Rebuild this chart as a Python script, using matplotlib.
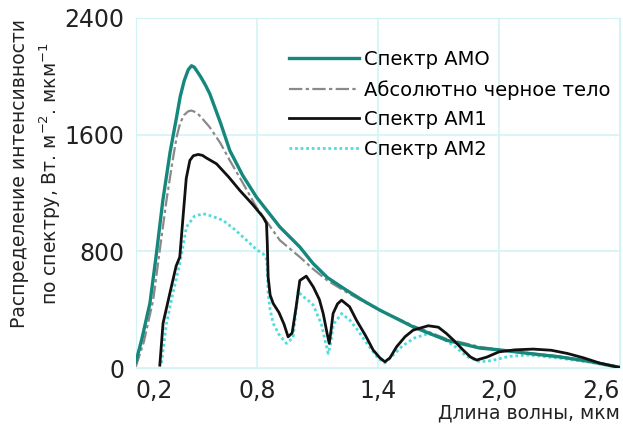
import matplotlib.pyplot as plt

# wavelength (um) / intensity (W m-2 um-1)
am0_x = [0.2, 0.23, 0.27, 0.30, 0.334, 0.37, 0.402, 0.42, 0.44, 0.46, 0.476, 0.49, 0.52, 0.545,
         0.567, 0.62, 0.666, 0.73, 0.798, 0.914, 1.013, 1.078, 1.15, 1.245, 1.33, 1.41,
         1.574, 1.74, 1.906, 2.0, 2.15, 2.3, 2.45, 2.6]
am0_y = [40, 200, 445, 760, 1149, 1480, 1719, 1860, 1970, 2045, 2072, 2062, 2000, 1940,
         1879, 1680, 1491, 1320, 1172, 967, 830, 718, 620, 533, 460, 397, 283, 191, 137,
         125, 100, 77, 45, 5]

bb_x = [0.2, 0.24, 0.286, 0.32, 0.352, 0.38, 0.402, 0.42, 0.44, 0.46, 0.476, 0.50, 0.52,
        0.567, 0.62, 0.666, 0.73, 0.798, 0.914, 1.013, 1.078, 1.15, 1.245, 1.33, 1.41,
        1.574, 1.74, 1.906, 2.0, 2.15, 2.3, 2.45, 2.6]
bb_y = [10, 180, 465, 820, 1149, 1400, 1582, 1680, 1735, 1760, 1765, 1752, 1725, 1650,
        1540, 1423, 1270, 1103, 876, 761, 680, 600, 520, 455, 397, 290, 200, 145, 128,
        102, 80, 48, 8]

am1_x = [0.319, 0.335, 0.37, 0.40, 0.418, 0.435, 0.45, 0.468, 0.485, 0.509, 0.53, 0.55, 0.6,
         0.66, 0.716, 0.78, 0.831, 0.848, 0.852, 0.856, 0.866, 0.881, 0.91, 0.935, 0.955,
         0.975, 0.995, 1.013, 1.045, 1.08, 1.11, 1.129, 1.148, 1.159, 1.168, 1.178, 1.2,
         1.22, 1.26, 1.294, 1.34, 1.377, 1.41, 1.435, 1.46, 1.493, 1.535, 1.575, 1.65,
         1.70, 1.74, 1.78, 1.823, 1.86, 1.89, 1.94, 2.0, 2.08, 2.17, 2.26, 2.34, 2.42,
         2.5, 2.6]
am1_y = [20, 307, 520, 700, 761, 1050, 1300, 1423, 1455, 1464, 1458, 1440, 1400, 1310,
         1217, 1120, 1035, 992, 850, 625, 500, 443, 380, 300, 214, 240, 420, 600, 630,
         556, 470, 374, 240, 169, 260, 374, 440, 465, 420, 328, 220, 123, 70, 43, 70,
         146, 215, 260, 290, 280, 237, 185, 123, 75, 55, 75, 111, 125, 130, 122, 100, 70,
         34, 3]

am2_x = [0.327, 0.352, 0.385, 0.418, 0.451, 0.49, 0.534, 0.58, 0.633, 0.69, 0.749, 0.80,
         0.831, 0.85, 0.856, 0.866, 0.881, 0.91, 0.947, 0.98, 1.005, 1.02, 1.05, 1.08,
         1.12, 1.14, 1.154, 1.165, 1.18, 1.22, 1.26, 1.3, 1.35, 1.4, 1.435, 1.47, 1.52,
         1.58, 1.65, 1.72, 1.78, 1.84, 1.906, 1.96, 2.05, 2.15, 2.3, 2.45, 2.6]
am2_y = [34, 306, 520, 716, 967, 1040, 1058, 1040, 1012, 950, 876, 810, 784, 740, 511, 400,
         306, 230, 169, 210, 533, 499, 470, 431, 300, 180, 100, 160, 300, 374, 330, 260,
         160, 70, 35, 80, 150, 205, 237, 205, 150, 80, 43, 50, 80, 90, 68, 40, 3]

xticks = [0.2, 0.8, 1.4, 2.0, 2.6]
yticks = [0, 800, 1600, 2400]
xtick_labels = ["0,2", "0,8", "1,4", "2,0", "2,6"]

fig = plt.figure(figsize=(6.23, 4.26), dpi=100)
ax = fig.add_axes([0.218, 0.136, 0.777, 0.822])

ax.plot(am0_x, am0_y, color="#16877c", lw=2.4, label="Спектр АМО", zorder=4)
ax.plot(bb_x, bb_y, color="#8a8a8a", lw=1.6, dashes=[6, 1.5, 1.5, 1.5],
        label="Абсолютно черное тело", zorder=3)
ax.plot(am1_x, am1_y, color="#111111", lw=2.0, label="Спектр АМ1", zorder=5)
ax.plot(am2_x, am2_y, color="#4fdcdc", lw=2.0, linestyle=(0, (1, 1)),
        label="Спектр АМ2", zorder=2)

ax.set_xlim(0.2, 2.6)
ax.set_ylim(0, 2400)
ax.set_xticks(xticks)
ax.set_xticklabels(xtick_labels)
ax.set_yticks(yticks)
ax.grid(True, color="#d2f3f3", lw=1.2)
for s in ax.spines.values():
    s.set_color("#d2f3f3")
ax.tick_params(length=0, labelsize=17, colors="#222222", pad=8)
ax.get_xticklabels()[0].set_ha("left")
ax.get_xticklabels()[-1].set_ha("right")

ax.set_ylabel("Распределение интенсивности\nпо спектру, Вт. м$^{-2}$. мкм$^{-1}$",
              fontsize=13.5, color="#222222", linespacing=1.4, va="center")
ax.yaxis.set_label_coords(-0.205, 0.555)
fig.text(0.995, 0.03, "Длина волны, мкм", ha="right", va="center", fontsize=13.5,
         color="#222222")

ax.legend(loc="upper left", bbox_to_anchor=(0.3, 0.93), frameon=False, fontsize=14,
          handlelength=3.6, handletextpad=0.25, labelspacing=0.55, borderaxespad=0)

plt.savefig("out.png")
